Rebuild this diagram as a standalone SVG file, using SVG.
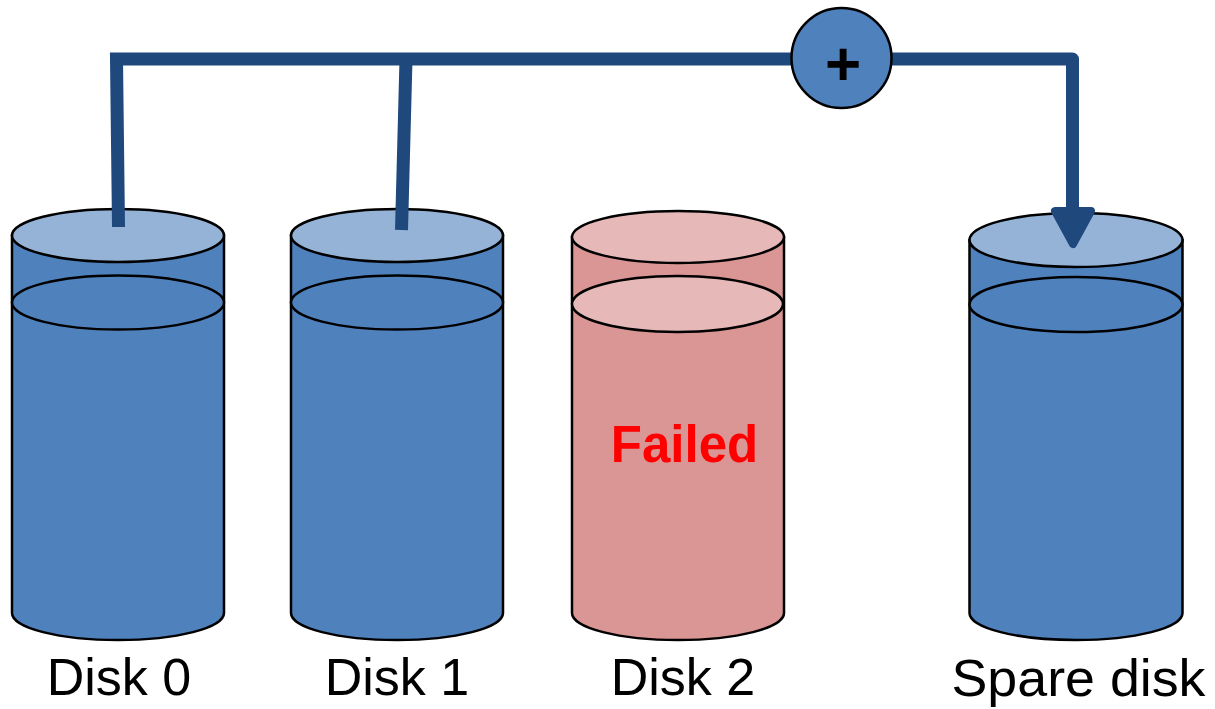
<svg xmlns="http://www.w3.org/2000/svg" width="1215" height="709" viewBox="0 0 1215 709">
<style>
.body{fill:#4F81BD;stroke:#000;stroke-width:2.5}
.top{fill:#95B3D7;stroke:#000;stroke-width:2.5}
.mid{fill:#4F81BD;stroke:#000;stroke-width:2.5}
.rbody{fill:#D99694;stroke:#000;stroke-width:2.5}
.rtop{fill:#E6B9B8;stroke:#000;stroke-width:2.5}
.lbl{font-family:"Liberation Sans",Arial,sans-serif;font-size:52px;fill:#000;text-anchor:middle}
.conn{fill:none;stroke:#1F497D;stroke-width:13}
.head{fill:#1F497D;stroke:#1F497D;stroke-width:8;stroke-linejoin:round}
</style>
<rect width="1215" height="709" fill="#fff"/>
<g id="disk0">
<path class="body" d="M12,235.5 L12,613 A106,27 0 0 0 224,613 L224,235.5 Z"/>
<ellipse class="top" cx="118" cy="235.5" rx="106" ry="26.5"/>
<ellipse class="mid" cx="118" cy="302.5" rx="106" ry="27"/>
<text class="lbl" x="119" y="695">Disk 0</text>
</g>
<g id="disk1">
<path class="body" d="M291,235.5 L291,613 A106,27 0 0 0 503,613 L503,235.5 Z"/>
<ellipse class="top" cx="397" cy="235.5" rx="106" ry="26.5"/>
<ellipse class="mid" cx="397" cy="302.5" rx="106" ry="27"/>
<text class="lbl" x="397" y="695">Disk 1</text>
</g>
<g id="disk2">
<path class="rbody" d="M572,237 L572,613 A106,27 0 0 0 784,613 L784,237 Z"/>
<ellipse class="rtop" cx="678" cy="237" rx="106" ry="26"/>
<ellipse class="rtop" cx="677.5" cy="304" rx="105.5" ry="28"/>
<text x="684.5" y="462" font-family="Liberation Sans,Arial,sans-serif" font-size="51" font-weight="bold" fill="#FF0000" text-anchor="middle">Failed</text>
<text class="lbl" x="683" y="695">Disk 2</text>
</g>
<g id="spare">
<path class="body" d="M969.5,240 L969.5,613 A106.5,27 0 0 0 1182.5,613 L1182.5,240 Z"/>
<ellipse class="top" cx="1076" cy="240" rx="106.5" ry="27"/>
<ellipse class="mid" cx="1076" cy="304.5" rx="106.5" ry="27.5"/>
<text class="lbl" x="1078.5" y="696" textLength="254" lengthAdjust="spacingAndGlyphs">Spare disk</text>
</g>
<g id="connectors">
<path class="conn" d="M118.5,227 L116.5,59 L792,59" stroke-linejoin="miter"/>
<path class="conn" d="M401.5,230 L406,59"/>
<path class="conn" d="M891,59 L1072.5,59 L1072.5,216" stroke-linejoin="round"/>
<path class="head" d="M1055,211 L1091,211 L1073,244 Z"/>
</g>
<g id="sum">
<circle cx="841.5" cy="58" r="50" fill="#4F81BD" stroke="#000" stroke-width="2.5"/>
<text x="843" y="85" font-family="Liberation Sans,Arial,sans-serif" font-size="62" font-weight="bold" fill="#000" text-anchor="middle">+</text>
</g>
</svg>
